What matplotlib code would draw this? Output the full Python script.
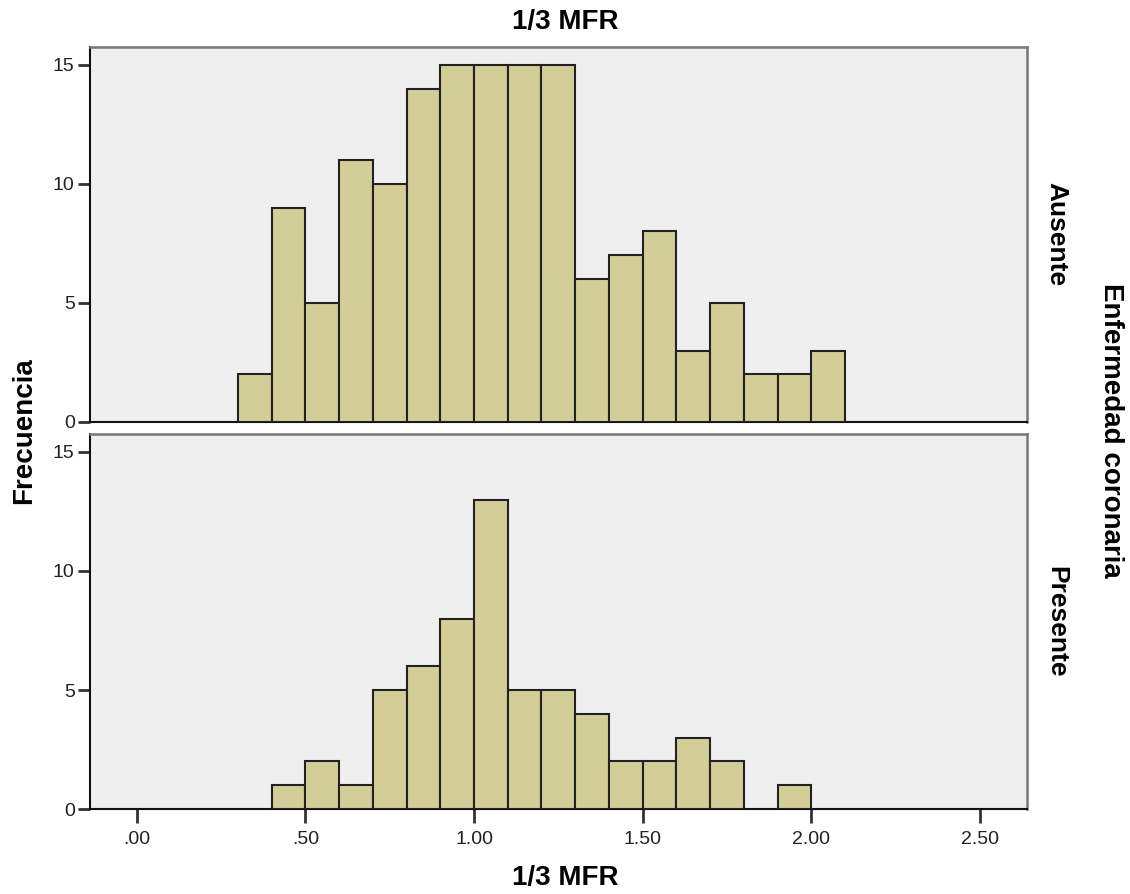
import numpy as np
import matplotlib
matplotlib.use("Agg")
import matplotlib.pyplot as plt

plt.rcParams['font.family'] = ['Liberation Sans', 'DejaVu Sans']

# bin edges for 1/3 MFR, width 0.1
bin_left = np.round(np.arange(0.3, 2.1, 0.1), 2)
ausente = [2, 9, 5, 11, 10, 14, 15, 15, 15, 15, 6, 7, 8, 3, 5, 2, 2, 3]
presente = [0, 1, 2, 1, 5, 6, 8, 13, 5, 5, 4, 2, 2, 3, 2, 0, 1, 0]
panels = ['Ausente', 'Presente']
xticks = [0.0, 0.5, 1.0, 1.5, 2.0, 2.5]
xticklabels = ['.00', '.50', '1.00', '1.50', '2.00', '2.50']
yticks = [0, 5, 10, 15]

bar_color = '#D3CE98'
bg = '#EFEFEF'

fig = plt.figure(figsize=(11.3, 8.94), dpi=100)
ax_top = fig.add_axes([0.0796, 0.528, 0.829, 0.4195])
ax_bot = fig.add_axes([0.0796, 0.095, 0.829, 0.4195])

for ax, counts, name in zip([ax_top, ax_bot], [ausente, presente], panels):
    ax.set_facecolor(bg)
    counts = np.array(counts)
    keep = counts > 0
    ax.bar(bin_left[keep], counts[keep], width=0.1, align='edge',
           color=bar_color, edgecolor='#222222', linewidth=1.5, zorder=3)
    ax.set_xlim(-0.139, 2.639)
    ax.set_ylim(0, 15.75)
    ax.set_yticks(yticks)
    ax.set_yticklabels([str(t) for t in yticks], fontsize=14, color='#222222')
    ax.tick_params(axis='y', length=9, width=2, color='#333333', pad=2)
    for s in ['left', 'bottom']:
        ax.spines[s].set_color('#111111')
        ax.spines[s].set_linewidth(1.5)
    for s in ['top', 'right']:
        ax.spines[s].set_color('#777777')
        ax.spines[s].set_linewidth(1.8)
    ax.text(1.019, 0.5, name, transform=ax.transAxes, rotation=-90,
            ha='left', va='center', fontsize=19, fontweight='bold')

ax_top.set_xticks([])
ax_bot.set_xticks(xticks)
ax_bot.set_xticklabels(xticklabels, fontsize=14, color='#222222')
ax_bot.tick_params(axis='x', length=10, width=2, color='#333333', pad=6)

fig.text(0.5, 0.975, '1/3 MFR', ha='center', va='center', fontsize=20, fontweight='bold')
fig.text(0.5, 0.018, '1/3 MFR', ha='center', va='center', fontsize=20, fontweight='bold')
fig.text(0.021, 0.518, 'Frecuencia', rotation=90, ha='center', va='center',
         fontsize=20, fontweight='bold')
fig.text(0.983, 0.519, 'Enfermedad coronaria', rotation=-90, ha='center', va='center',
         fontsize=20, fontweight='bold')

fig.savefig('out.png', dpi=100)
